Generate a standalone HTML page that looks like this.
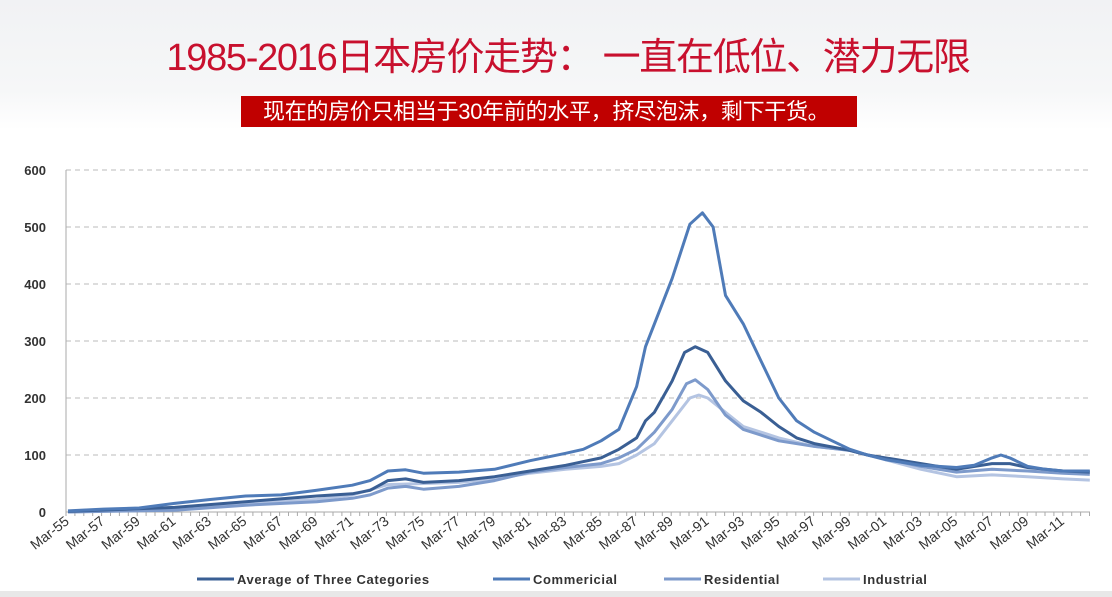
<!DOCTYPE html>
<html><head><meta charset="utf-8"><style>
body{margin:0;width:1112px;height:597px;overflow:hidden;background:#fff;font-family:"Liberation Sans","Noto Sans CJK SC",sans-serif;}
.bg{position:absolute;left:0;top:0;width:1112px;height:130px;background:linear-gradient(#f1f2f4,#f6f7f8 70%,#fff);}
.title{position:absolute;left:12px;width:1112px;top:26px;text-align:center;font-size:38px;color:#c8102e;letter-spacing:-1.3px;}
.sub{position:absolute;left:241px;top:96px;width:616px;height:31px;background:#c00000;color:#fff;font-size:22px;line-height:31px;padding-left:22px;box-sizing:border-box;letter-spacing:-0.3px;white-space:nowrap;overflow:hidden;}
.foot{position:absolute;left:0;top:591px;width:1112px;height:6px;background:#e8e8e8;}
</style></head><body>
<div class="bg"></div>
<div class="title">1985-2016日本房价走势：&nbsp;一直在低位、潜力无限</div>
<div class="sub">现在的房价只相当于30年前的水平，挤尽泡沫，剩下干货。</div>
<svg id="c" width="1112" height="597" style="position:absolute;left:0;top:0" font-family="Liberation Sans, sans-serif"></svg>
<div class="foot"></div>
<script>
var s=document.getElementById('c'),h='';
function X(y){return 68+(y-1955)*17.77}
function Y(v){return 512-0.57*v}
for(var v=100;v<=600;v+=100){h+='<line x1="66" x2="1090" y1="'+Y(v)+'" y2="'+Y(v)+'" stroke="#bbb" stroke-dasharray="5,4"/>';}
for(v=0;v<=600;v+=100)h+='<text x="46" y="'+(Y(v)+5)+'" font-size="13" font-weight="bold" fill="#333" text-anchor="end">'+v+'</text>';
h+='<line x1="66" x2="66" y1="170" y2="512" stroke="#aaa"/><line x1="66" x2="1090" y1="512" y2="512" stroke="#aaa"/>';
for(var t=66;t<=1090;t+=8.9)h+='<line x1="'+t+'" x2="'+t+'" y1="512" y2="516" stroke="#aaa"/>';
for(var y=1955;y<=2011;y+=2){var lx=X(y)+2,ly=523;h+='<text transform="translate('+lx+','+ly+') rotate(-38)" font-size="14" fill="#333" text-anchor="end">Mar-'+String(y%100).padStart(2,'0')+'</text>';}
var S=[
["#3a5f94",[[55,1],[61,8],[65,18],[69,28],[71,32],[72,38],[73,55],[74,58],[75,52],[77,55],[79,62],[81,72],[83,82],[85,95],[86,110],[87,130],[87.5,160],[88,175],[89,230],[89.7,280],[90.3,290],[91,280],[92,230],[93,195],[94,175],[95,150],[96,130],[97,120],[99,108],[100,100],[103,85],[105,75],[107,85],[108,85],[109,78],[111,72],[112.5,70]]],
["#4f7bb8",[[55,2],[57,5],[59,7],[61,15],[63,22],[65,28],[67,30],[69,38],[71,47],[72,55],[73,72],[74,74],[75,68],[77,70],[79,75],[81,90],[83,103],[84,110],[85,125],[86,145],[87,220],[87.5,290],[88,330],[89,410],[90,505],[90.7,525],[91.3,500],[92,380],[93,330],[94,265],[95,200],[96,160],[97,140],[98,125],[99,110],[100,100],[101,92],[103,82],[105,78],[106,82],[107,95],[107.5,100],[108,95],[109,80],[110,75],[111,72],[112.5,72]]],
["#7d9acb",[[55,0],[61,3],[65,12],[69,18],[71,24],[72,30],[73,42],[74,45],[75,40],[77,45],[79,55],[81,70],[83,78],[85,85],[86,95],[87,110],[88,140],[89,180],[89.8,225],[90.3,232],[91,215],[92,170],[93,145],[94,135],[95,125],[97,115],[99,108],[100,100],[103,80],[105,70],[107,75],[109,72],[111,68],[112.5,66]]],
["#b4c4e2",[[55,0],[61,5],[65,15],[69,22],[71,30],[73,48],[75,50],[77,52],[79,58],[81,68],[83,75],[85,80],[86,85],[87,100],[88,120],[89,160],[90,200],[90.5,205],[91,200],[92,175],[93,150],[95,130],[97,115],[99,108],[100,100],[103,75],[105,62],[107,65],[109,62],[111,58],[112.5,56]]]];
[3,2,0,1].forEach(function(i){var d=S[i][1].map(function(p){return X(1900+p[0]).toFixed(1)+','+Y(p[1]).toFixed(1)}).join(' ');h+='<polyline points="'+d+'" fill="none" stroke="'+S[i][0]+'" stroke-width="3" stroke-linejoin="round"/>';});
var L=[[197,"Average of Three Categories",0],[493,"Commericial",1],[664,"Residential",2],[823,"Industrial",3]];
L.forEach(function(l){h+='<line x1="'+l[0]+'" x2="'+(l[0]+37)+'" y1="579" y2="579" stroke="'+S[l[2]][0]+'" stroke-width="3"/><text x="'+(l[0]+40)+'" y="584" font-size="13" font-weight="bold" fill="#333" letter-spacing="0.6">'+l[1]+'</text>';});
s.innerHTML=h;
</script>
</body></html>
